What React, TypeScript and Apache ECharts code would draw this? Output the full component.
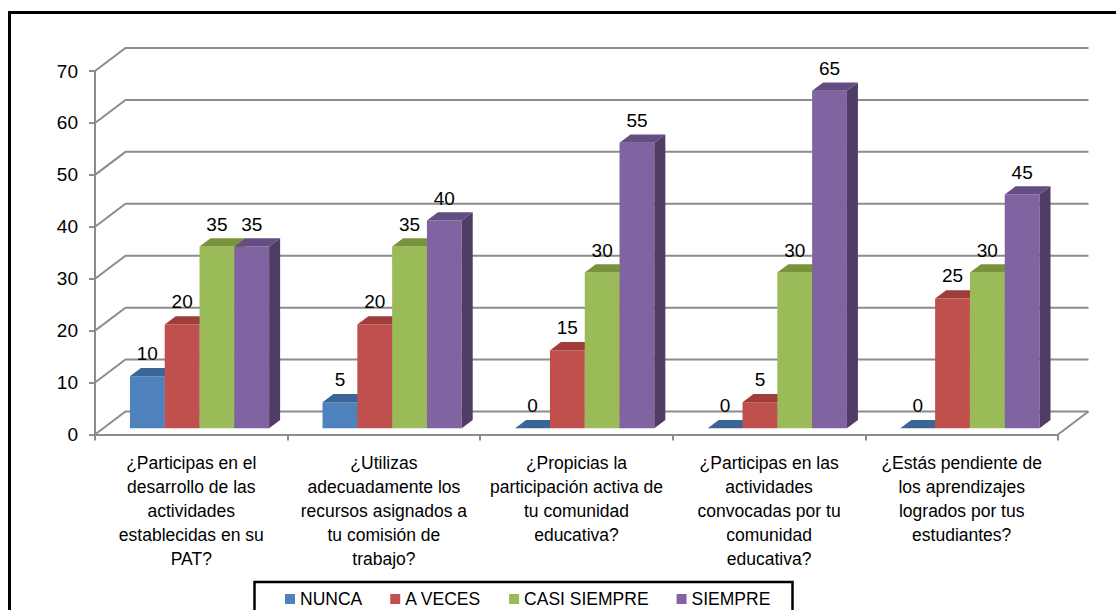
import React, { useEffect, useRef } from "react";
import * as echarts from "echarts";

// Survey answers per question (percent of respondents)
const categories = [
  "¿Participas en el\ndesarrollo de las\nactividades\nestablecidas en su\nPAT?",
  "¿Utilizas\nadecuadamente los\nrecursos asignados a\ntu comisión de\ntrabajo?",
  "¿Propicias la\nparticipación activa de\ntu comunidad\neducativa?",
  "¿Participas en las\nactividades\nconvocadas por tu\ncomunidad\neducativa?",
  "¿Estás pendiente de\nlos aprendizajes\nlogrados por tus\nestudiantes?",
];
const nunca = [10, 5, 0, 0, 0];
const aVeces = [20, 20, 15, 5, 25];
const casiSiempre = [35, 35, 30, 30, 30];
const siempre = [35, 40, 55, 65, 45];
const seriesNames = ["NUNCA", "A VECES", "CASI SIEMPRE", "SIEMPRE"];
const yTicks = [0, 10, 20, 30, 40, 50, 60, 70];

// face colours: front, top, side
const palette = [
  { front: "#4F81BD", top: "#3B6596", side: "#385D8A" },
  { front: "#C0504D", top: "#9E3D3A", side: "#8C3836" },
  { front: "#9BBB59", top: "#77933C", side: "#71893F" },
  { front: "#8064A2", top: "#634D82", side: "#4F3D66" },
];

const FONT = "'Liberation Sans', Arial, sans-serif";
const GRID_COLOR = "#8c8c8c";
// oblique depth of the floor / back wall
const DX = 30.5;
const DY = -23;
// bar placement inside the depth and the category band
const BAR_Z0 = 0.27;
const BAR_DEPTH = 0.36;
const BAR_FRAC = 0.1807;

function makeBarRenderer(idx: number) {
  const c = palette[idx];
  return (params: any, api: any) => {
    const cat = api.value(0);
    const v = api.value(1);
    const base = api.coord([cat, 0]);
    const top = api.coord([cat, v]);
    const band = api.size([1, 0])[0];
    const bw = band * BAR_FRAC;
    const ox = DX * BAR_Z0;
    const oy = DY * BAR_Z0;
    const x0 = base[0] - 2 * bw + idx * bw + ox;
    const x1 = x0 + bw;
    const yb = base[1] + oy;
    const yt = top[1] + oy;
    const ddx = DX * BAR_DEPTH;
    const ddy = DY * BAR_DEPTH;
    return {
      type: "group",
      children: [
        {
          type: "polygon",
          shape: { points: [[x0, yb], [x1, yb], [x1, yt], [x0, yt]] },
          style: { fill: c.front },
        },
        {
          type: "polygon",
          shape: { points: [[x1, yb], [x1 + ddx, yb + ddy], [x1 + ddx, yt + ddy], [x1, yt]] },
          style: { fill: c.side },
        },
        {
          type: "polygon",
          shape: { points: [[x0, yt], [x1, yt], [x1 + ddx, yt + ddy], [x0 + ddx, yt + ddy]] },
          style: { fill: c.top },
        },
        {
          type: "text",
          x: x0 + bw / 2,
          y: yt - 22.5,
          style: {
            text: String(v),
            align: "center",
            verticalAlign: "middle",
            fill: "#000",
            fontSize: 19,
            fontFamily: FONT,
          },
        },
      ],
    };
  };
}

// back wall gridlines and floor outline
function renderWall(params: any, api: any) {
  const v = api.value(1);
  const cs = params.coordSys;
  const y = api.coord([0, v])[1];
  const xl = cs.x;
  const xr = cs.x + cs.width;
  const lineStyle = { stroke: GRID_COLOR, lineWidth: 2, fill: "none" };
  const children: any[] = [
    {
      type: "polyline",
      shape: { points: [[xl, y], [xl + DX, y + DY], [xr + DX, y + DY]] },
      style: lineStyle,
    },
  ];
  if (v === 0) {
    children.push({
      type: "line",
      shape: { x1: xr, y1: y, x2: xr + DX, y2: y + DY },
      style: lineStyle,
    });
  }
  return { type: "group", children };
}

export default function App() {
  const ref = useRef<HTMLDivElement>(null);

  useEffect(() => {
    if (!ref.current) return;
    const chart = echarts.init(ref.current, undefined, { renderer: "svg" });
    const valueSets = [nunca, aVeces, casiSiempre, siempre];

    const barSeries = valueSets.map((vals, i) => ({
      name: seriesNames[i],
      type: "custom",
      coordinateSystem: "cartesian2d",
      renderItem: makeBarRenderer(i),
      itemStyle: { color: palette[i].front },
      encode: { x: 0, y: 1 },
      data: vals.map((v, k) => [k, v]),
      z: 3 + i,
    }));

    chart.setOption({
      animation: false,
      backgroundColor: "#ffffff",
      textStyle: { fontFamily: FONT },
      grid: { left: 95, right: 58, top: 71, bottom: 175.5, containLabel: false },
      xAxis: {
        type: "category",
        data: categories,
        boundaryGap: true,
        axisLine: { show: true, lineStyle: { color: GRID_COLOR, width: 2 } },
        axisTick: { show: true, length: 6, lineStyle: { color: GRID_COLOR, width: 2 } },
        axisLabel: {
          interval: 0,
          margin: 16,
          fontSize: 17.5,
          lineHeight: 24,
          color: "#000",
          fontFamily: FONT,
        },
        splitLine: { show: false },
      },
      yAxis: {
        type: "value",
        min: 0,
        max: 70,
        interval: 10,
        axisLine: { show: true, lineStyle: { color: GRID_COLOR, width: 2 } },
        axisTick: { show: true, length: 6, lineStyle: { color: GRID_COLOR, width: 2 } },
        axisLabel: { margin: 17, fontSize: 19, color: "#000", fontFamily: FONT },
        splitLine: { show: false },
      },
      legend: {
        data: seriesNames,
        icon: "rect",
        itemWidth: 10,
        itemHeight: 10,
        itemGap: 28,
        left: 285,
        top: 590,
        padding: 0,
        textStyle: { fontSize: 17.5, color: "#000", fontFamily: FONT },
      },
      graphic: [
        {
          type: "rect",
          shape: { x: 9.5, y: 12.5, width: 1200, height: 700 },
          style: { fill: "none", stroke: "#000", lineWidth: 3 },
          silent: true,
        },
        {
          type: "rect",
          shape: { x: 254.5, y: 582, width: 538, height: 60 },
          style: { fill: "none", stroke: "#000", lineWidth: 2.5 },
          silent: true,
        },
      ],
      series: [
        {
          name: "wall",
          type: "custom",
          coordinateSystem: "cartesian2d",
          renderItem: renderWall,
          encode: { x: 0, y: 1 },
          data: yTicks.map((t) => [0, t]),
          silent: true,
          z: 1,
        },
        ...barSeries,
      ],
    });

    return () => chart.dispose();
  }, []);

  return (
    <div
      ref={ref}
      style={{ position: "fixed", left: 0, top: 0, width: 1116, height: 610, background: "#fff" }}
    />
  );
}
